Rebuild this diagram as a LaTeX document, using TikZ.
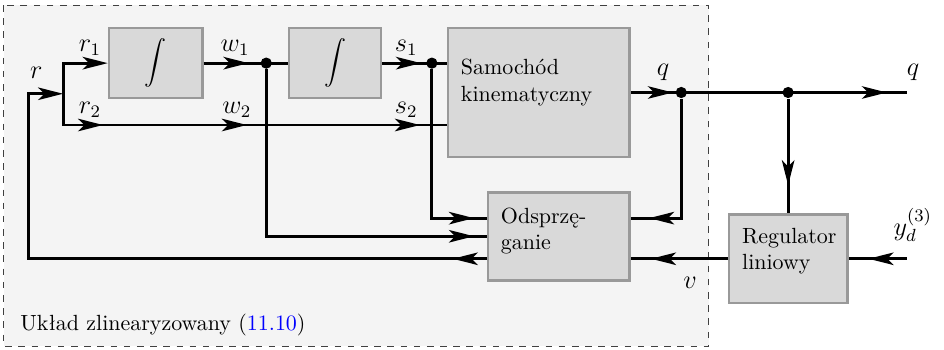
\documentclass[tikz,border=0pt]{standalone}
\usepackage{xcolor}
\usepackage{tikz}
\usetikzlibrary{arrows.meta,positioning,decorations.markings}
\definecolor{framegray}{RGB}{244,244,244}
\definecolor{blockgray}{RGB}{217,217,217}
\definecolor{edgegray}{RGB}{153,153,153}
\definecolor{linkblue}{RGB}{0,0,255}
% text in a block: height, width, top gap, lines
\newcommand{\blocklines}[4]{\parbox[c][#1][t]{#2}{\raggedright\leftskip=0.21cm\vspace*{#3}#4}}

\begin{document}
\begin{tikzpicture}[
  font=\normalsize,
  block/.style={draw=edgegray, fill=blockgray, line width=1.2pt, inner sep=0pt},
  sig/.style={line width=1.3pt},
  Sig/.tip={Stealth[length=0.4cm, width=0.2cm, inset=0.1cm]},
  arrow at/.style={postaction={decorate, decoration={markings, mark=at position #1 with {\arrow{Sig}}}}},
  junction/.style={circle, fill, inner sep=0pt, minimum size=0.18cm},
  lbl/.style={inner sep=0pt, anchor=base, font=\large}
]
\useasboundingbox (0,0) rectangle (15.104,-5.584);
\draw[dashed, thin, draw=black!75, fill=framegray] (0.06,-0.08) rectangle (11.34,-5.54);

% blocks
\node[block, minimum width=1.49cm, minimum height=1.12cm] (int1) at (2.49,-1.01) {$\displaystyle\int$};
\node[block, minimum width=1.47cm, minimum height=1.12cm] (int2) at (5.36,-1.01) {$\displaystyle\int$};
\node[block] (samo) at (8.62,-1.48) {\blocklines{2.06cm}{2.91cm}{0.5cm}{Samochód\\kinematyczny}};
\node[block] (odsp) at (8.94,-3.78) {\blocklines{1.41cm}{2.27cm}{0.25cm}{Odsprzę-\\ganie}};
\node[block] (reg) at (12.61,-4.14) {\blocklines{1.41cm}{1.89cm}{0.21cm}{Regulator\\liniowy}};

% junctions
\node[junction] (w1) at (4.26,-1.01) {};
\node[junction] (s1) at (6.91,-1.01) {};
\node[junction] (qa) at (10.9,-1.48) {};
\node[junction] (qb) at (12.61,-1.48) {};
\coordinate (rin) at (1.01,-1.5);
\coordinate (corner) at (0.45,-1.5);
\coordinate (low) at (0,-2.0);
\coordinate (qout) at (14.51,-1.48);
\coordinate (ydin) at (14.51,-4.14);

% signals
\draw[sig, -Sig] (rin) |- (int1.west);
\draw[sig, arrow at=1.14cm, arrow at=3.44cm, arrow at=6.21cm] (rin) |- (samo.west |- low);
\draw[sig, arrow at=0.72cm] (int1.east) -- (int2.west);
\draw[sig, arrow at=0.62cm] (int2.east) -- (samo.west |- int2);
\draw[sig, arrow at=0.67cm, arrow at=-0.32cm] (samo.east) -- (qout);
\draw[sig, arrow at=-0.2cm] (w1) |- (odsp.west);
\draw[sig, arrow at=-0.2cm] (s1) |- ([yshift=0.29cm]odsp.west);
\draw[sig, arrow at=-0.29cm] (qa) |- ([yshift=0.29cm]odsp.east);
\draw[sig, arrow at=-0.45cm] (qb) -- (reg.north);
\draw[sig, arrow at=-0.32cm] (reg.west) -- (odsp.east |- reg);
\draw[sig, arrow at=-0.32cm] (ydin) -- (reg.east);
\draw[sig, arrow at=0.54cm, -Sig] (odsp.west |- reg) -| (corner) -- (rin);

% labels
\node[lbl] (lr) at (0.58,-1.26) {$r$};
\node[lbl] (lr1) at (1.44,-0.83) {$r_1$};
\node[lbl] (lr2) at (1.44,-1.81) {$r_2$};
\node[lbl] (lw1) at (3.76,-0.83) {$w_1$};
\node[lbl] (lw2) at (3.79,-1.81) {$w_2$};
\node[lbl] (ls1) at (6.5,-0.83) {$s_1$};
\node[lbl] (ls2) at (6.5,-1.81) {$s_2$};
\node[lbl] (lq) at (10.61,-1.2) {$q$};
\node[lbl] (lqout) at (14.61,-1.2) {$q$};
\node[lbl] (lv) at (11.04,-4.61) {$v$};
\node[lbl, anchor=base west] (lyd) at (14.29,-3.76) {$y_d^{(3)}$};
\node[anchor=base west, inner sep=0pt] (caption) at (0.32,-5.28) {Układ zlinearyzowany ({\color{linkblue}11.10})};
\end{tikzpicture}
\end{document}
